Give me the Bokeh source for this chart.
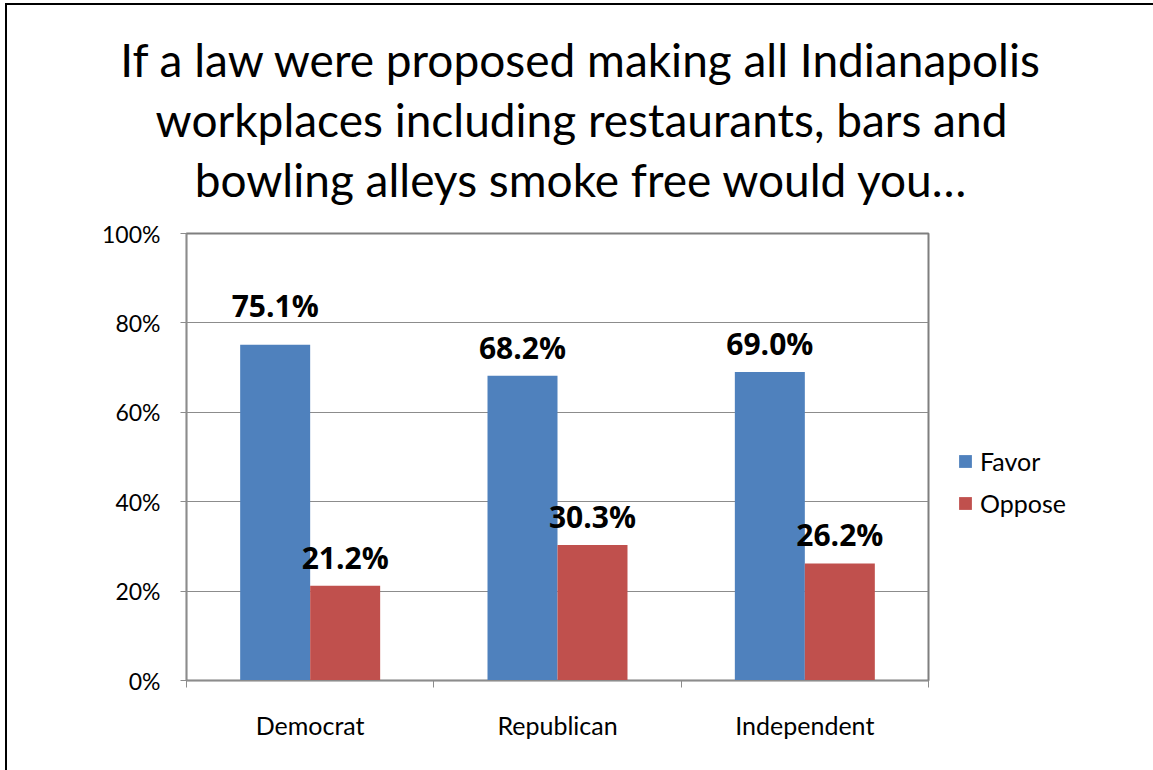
from bokeh.plotting import figure
from bokeh.layouts import column, row
from bokeh.core.properties import value
from bokeh.models import (ColumnDataSource, Range1d, FixedTicker, PrintfTickFormatter,
                          LabelSet, Label, Legend, LegendItem)
from bokeh.embed import file_html
from bokeh.resources import INLINE

# --- data -------------------------------------------------------------
categories = ["Democrat", "Republican", "Independent"]
favor = [75.1, 68.2, 69.0]
oppose = [21.2, 30.3, 26.2]
y_ticks = [0, 20, 40, 60, 80, 100]
series_names = ["Favor", "Oppose"]
title_lines = [
    "If a law were proposed making all Indianapolis",
    "workplaces including restaurants, bars and",
    "bowling alleys smoke free would you…",
]

FONT = "Lato"
BOLD_FONT = "Open Sans"
BLUE = "#4F81BD"
RED = "#C0504D"
GRID = "#8C8C8C"

BAR_W = 0.283
n = len(categories)
centers = [i + 0.5 for i in range(n)]


def blank(width, height):
    """A figure with no axes whose frame fills the canvas."""
    f = figure(width=width, height=height, output_backend="svg", toolbar_location=None,
               x_range=Range1d(0, 1), y_range=Range1d(0, 1),
               min_border=0, min_border_left=0, min_border_right=0,
               min_border_top=0, min_border_bottom=0)
    f.axis.visible = False
    f.grid.visible = False
    f.outline_line_color = None
    f.background_fill_color = "white"
    f.border_fill_color = "white"
    return f


# --- heading ------------------------------------------------------------
head = blank(1146, 212)
for i, line in enumerate(title_lines):
    head.add_layout(Label(x=574, y=158 - 60 * i, x_units="screen", y_units="screen",
                          text=line, text_align="center", text_baseline="alphabetic",
                          text_font=FONT, text_font_size="46px",
                          text_color="black"))

# --- chart --------------------------------------------------------------
fav_src = ColumnDataSource(dict(
    x=[c - BAR_W / 2 for c in centers], top=favor,
    label=[f"{v:.1f}%" for v in favor],
    off=[28 if i == 0 else 17 for i in range(n)],
))
opp_src = ColumnDataSource(dict(
    x=[c + BAR_W / 2 for c in centers], top=oppose,
    label=[f"{v:.1f}%" for v in oppose],
    off=[17] * n,
))

p = figure(width=931, height=553, output_backend="svg", toolbar_location=None,
           x_range=Range1d(0, n), y_range=Range1d(0, 100),
           min_border_left=179, min_border_right=10,
           min_border_top=16, min_border_bottom=90)
p.background_fill_color = "white"
p.border_fill_color = "white"
p.outline_line_color = "#7F7F7F"
p.outline_line_width = 2

p.vbar(x="x", top="top", width=BAR_W, bottom=0, source=fav_src,
       fill_color=BLUE, line_color=None)
p.vbar(x="x", top="top", width=BAR_W, bottom=0, source=opp_src,
       fill_color=RED, line_color=None)

for src in (fav_src, opp_src):
    p.add_layout(LabelSet(x="x", y="top", text="label", y_offset="off", source=src,
                          text_align="center", text_baseline="alphabetic",
                          text_font=value(BOLD_FONT), text_font_style="bold",
                          text_font_size="30px", text_color="black"))

# x axis: boundary ticks between groups, names centred in each group
xa = p.xaxis[0]
xa.ticker = FixedTicker(ticks=centers, minor_ticks=list(range(n + 1)))
xa.major_label_overrides = {c: name for c, name in zip(centers, categories)}
xa.major_tick_in = 0
xa.major_tick_out = 0
xa.minor_tick_in = 0
xa.minor_tick_out = 7
xa.minor_tick_line_color = GRID
xa.axis_line_color = GRID
xa.major_label_standoff = 22
xa.major_label_text_font = FONT
xa.major_label_text_font_size = "25px"
xa.major_label_text_color = "black"

ya = p.yaxis[0]
ya.ticker = FixedTicker(ticks=y_ticks, minor_ticks=[])
ya.formatter = PrintfTickFormatter(format="%d%%")
ya.major_tick_in = 0
ya.major_tick_out = 6
ya.major_tick_line_color = GRID
ya.axis_line_color = GRID
ya.major_label_standoff = 20
ya.major_label_text_font = FONT
ya.major_label_text_font_size = "23px"
ya.major_label_text_color = "black"

p.xgrid.grid_line_color = None
p.ygrid.grid_line_color = GRID
p.ygrid.ticker = FixedTicker(ticks=y_ticks)

# --- legend -------------------------------------------------------------
# hidden copies of the two series supply the legend swatches
side = blank(215, 553)
swatches = [side.vbar(x="x", top="top", width=BAR_W, bottom=0, source=src,
                      fill_color=c, line_color=None, visible=False)
            for src, c in ((fav_src, BLUE), (opp_src, RED))]
side.add_layout(Legend(items=[LegendItem(label=name, renderers=[r])
                              for name, r in zip(series_names, swatches)],
                       location=(19, 162), orientation="vertical",
                       glyph_width=16, glyph_height=16, label_height=20,
                       spacing=12, padding=0, margin=0, label_standoff=7,
                       border_line_color=None, background_fill_alpha=0,
                       inactive_fill_alpha=0,
                       label_text_font=FONT, label_text_font_size="25px",
                       label_text_color="black"))

page = column(head, row(p, side))
page.styles = {"border-top": "2px solid #000", "border-left": "2px solid #000",
               "margin-left": "5px", "margin-top": "3px"}

open("out.html", "w").write(file_html(page, INLINE))
